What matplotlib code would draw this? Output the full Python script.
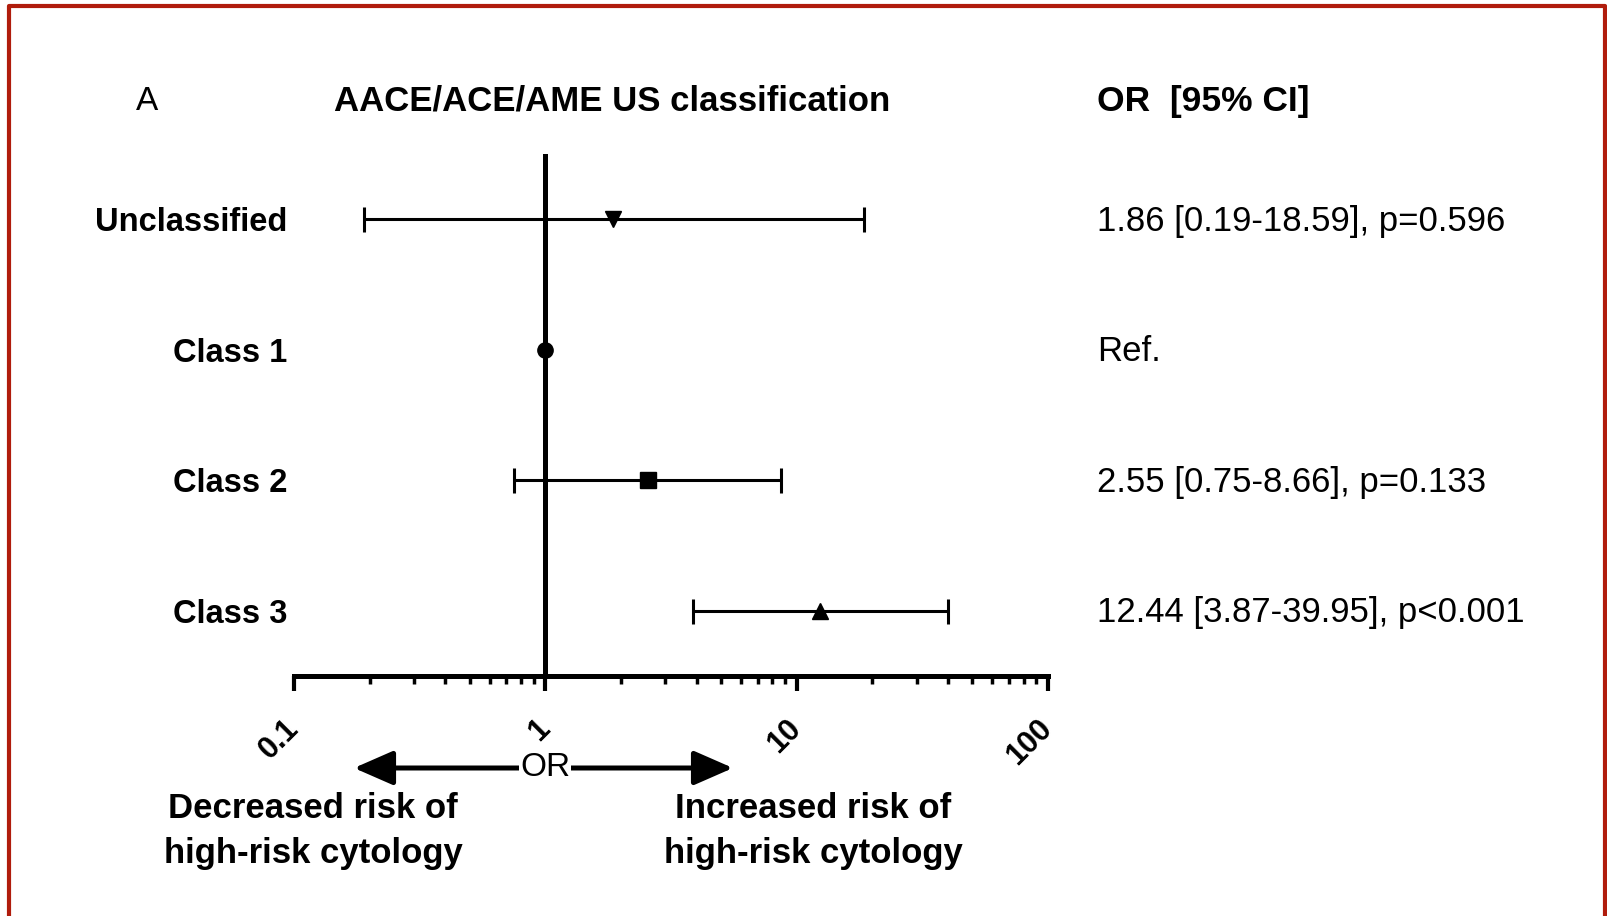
import numpy as np
import matplotlib
matplotlib.use("Agg")
import matplotlib.pyplot as plt
from matplotlib.patches import FancyArrowPatch
from matplotlib.lines import Line2D
from matplotlib.ticker import LogLocator, NullFormatter

plt.rcParams['font.family'] = ['Liberation Sans', 'DejaVu Sans']

# data
groups = ['Unclassified', 'Class 1', 'Class 2', 'Class 3']
odds = [1.86, 1.0, 2.55, 12.44]
ci_low = [0.19, np.nan, 0.75, 3.87]
ci_high = [18.59, np.nan, 8.66, 39.95]
markers = ['v', 'o', 's', '^']
right_text = ['1.86 [0.19-18.59], p=0.596', 'Ref.',
              '2.55 [0.75-8.66], p=0.133', '12.44 [3.87-39.95], p<0.001']
xticks = [0.1, 1, 10, 100]
xtick_labels = ['0.1', '1', '10', '100']

W, H = 1608, 916
fig = plt.figure(figsize=(W / 100, H / 100), dpi=100)

def fx(px):
    return px / W

def fy(py):
    return 1 - py / H

ax_l, ax_r, ax_t, ax_b = 294, 1048, 154, 676
ax = fig.add_axes([fx(ax_l), fy(ax_b), fx(ax_r - ax_l), (ax_b - ax_t) / H])
ax.set_xscale('log')
ax.set_xlim(0.1, 100)
ax.set_ylim(0.5, 4.5)

rows = np.arange(len(groups), 0, -1)

# reference line at OR = 1
ax.axvline(1, color='black', lw=3.6, zorder=2)

for i in range(len(groups)):
    if not np.isnan(ci_low[i]):
        ax.errorbar(odds[i], rows[i],
                    xerr=[[odds[i] - ci_low[i]], [ci_high[i] - odds[i]]],
                    fmt='none', ecolor='black', elinewidth=2.2,
                    capsize=9, capthick=2.2, zorder=3)
    ax.plot(odds[i], rows[i], marker=markers[i], color='black',
            markersize=11, zorder=4, clip_on=False)

for side in ['top', 'right', 'left']:
    ax.spines[side].set_visible(False)
ax.spines['bottom'].set_linewidth(3.6)

ax.set_xticks(xticks)
ax.set_xticklabels(xtick_labels, rotation=45, ha='right', va='center',
                   rotation_mode='anchor', fontsize=22, fontweight='bold')
ax.xaxis.set_minor_locator(LogLocator(base=10, subs=np.arange(2, 10)))
ax.xaxis.set_minor_formatter(NullFormatter())
ax.tick_params(axis='x', which='major', length=11, width=3, pad=24)
ax.tick_params(axis='x', which='minor', length=6, width=2.5)

ax.set_yticks(rows)
ax.set_yticklabels(groups, fontsize=23.5, fontweight='bold')
ax.tick_params(axis='y', length=0, pad=5)

for i in range(len(groups)):
    ax.text(1.065, rows[i] - 0.015, right_text[i],
            transform=ax.get_yaxis_transform(),
            fontsize=25, va='center', ha='left')

# header
fig.text(fx(147), fy(101), 'A', fontsize=24, ha='center', va='center')
fig.text(fx(612), fy(101), 'AACE/ACE/AME US classification', fontsize=25,
         fontweight='bold', ha='center', va='center')
fig.text(fx(1097), fy(101), 'OR  [95% CI]', fontsize=25.5, fontweight='bold',
         ha='left', va='center')

# OR direction arrow
arrow = FancyArrowPatch((fx(354), fy(768)), (fx(733), fy(768)),
                        transform=fig.transFigure,
                        arrowstyle='<|-|>,head_length=2.4,head_width=1.05',
                        mutation_scale=10, lw=3.6, color='black',
                        shrinkA=0, shrinkB=0)
fig.patches.append(arrow)
fig.text(fx(545), fy(768), 'OR', fontsize=24, ha='center', va='center',
         bbox=dict(facecolor='white', edgecolor='none', pad=1), zorder=5)

fig.text(fx(313), fy(831), 'Decreased risk of\nhigh-risk cytology', fontsize=25,
         fontweight='bold', ha='center', va='center', linespacing=1.45)
fig.text(fx(813), fy(831), 'Increased risk of\nhigh-risk cytology', fontsize=25,
         fontweight='bold', ha='center', va='center', linespacing=1.45)

# red frame (open at the bottom)
frame = Line2D([fx(9.5), fx(9.5), fx(1605.5), fx(1605.5)],
               [fy(930), fy(5.5), fy(5.5), fy(930)],
               transform=fig.transFigure, color='#b01c0c', lw=3)
fig.lines.append(frame)

fig.savefig('out.png', dpi=100)
